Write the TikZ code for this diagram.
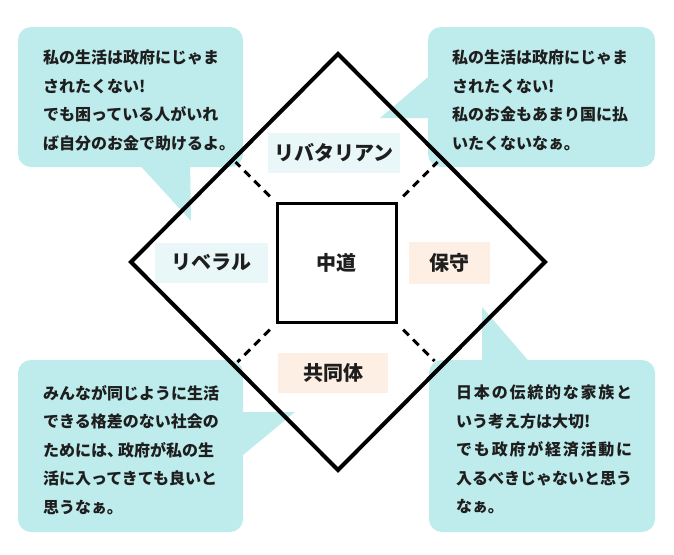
\documentclass[tikz,border=0pt]{standalone}
\usepackage{fontspec}
\setmainfont{Noto Sans CJK JP}
\usetikzlibrary{calc}
\definecolor{bub}{HTML}{BEEBEC}
\definecolor{palecyan}{HTML}{E9F7F8}
\definecolor{peach}{HTML}{FDEFE3}
\definecolor{ink}{HTML}{1E1E1E}
\begin{document}
\begin{tikzpicture}[x=1pt,y=-1pt,
  bubble/.style={fill=bub, draw=none, rounded corners=13pt, inner sep=0pt},
  btext/.style={anchor=north west, inner sep=0pt, align=left, text=ink,
    font=\bfseries\fontsize{16}{28.5}\selectfont},
  lab/.style={inner sep=0pt, text=ink, font=\bfseries\fontsize{20}{24}\selectfont},
  labbox/.style={lab, minimum height=40pt},
  frame/.style={draw=black, line width=4pt, line join=miter},
  cross/.style={draw=black, line width=3pt, dash pattern=on 8pt off 6pt, shorten <=8pt}]
\useasboundingbox (0,0) rectangle (674,554);

% speech bubbles
\node[bubble, minimum width=225pt, minimum height=140pt] (b1) at (130.5,97) {};
\fill[bub] (135,160) -- (190,160) -- (191,221) -- cycle;
\node[bubble, minimum width=227pt, minimum height=140pt] (b2) at (541.5,97) {};
\fill[bub] (434,72) -- (380,118) -- (434,118) -- cycle;
\node[bubble, minimum width=225pt, minimum height=172pt] (b3) at (130.5,446) {};
\fill[bub] (237,412) -- (295,412) -- (237,460) -- cycle;
\node[bubble, minimum width=226pt, minimum height=172pt] (b4) at (542,446) {};
\fill[bub] (482,366) -- (482,307) -- (533,366) -- cycle;

\node[btext] (t1) at (43,50) {私の生活は政府にじゃま\\されたくない!\\でも困っている人がいれ\\ば自分のお金で助けるよ。};
\node[btext] (t2) at (452,50) {私の生活は政府にじゃま\\されたくない!\\私のお金もあまり国に払\\いたくないなぁ。};
\node[btext] (t3) at (43,385) {みんなが同じように生活\\できる格差のない社会の\\ためには、\kern-5pt 政府が私の生\\活に入ってきても良いと\\思うなぁ。};
\node[btext] (t4) at (456,385) {\hbox to 176pt{日\hfill 本\hfill の\hfill 伝\hfill 統\hfill 的\hfill な\hfill 家\hfill 族\hfill と}\\いう考え方は大切!\\\hbox to 176pt{で\hfill も\hfill 政\hfill 府\hfill が\hfill 経\hfill 済\hfill 活\hfill 動\hfill に}\\入るべきじゃないと思う\\なぁ。};

% diamond
\coordinate (top) at (338,54);
\coordinate (right) at (545,262);
\coordinate (bottom) at (338,470);
\coordinate (left) at (131,262);
\draw[frame] (top) -- (right) -- (bottom) -- (left) -- cycle;

% centre square
\node[draw=black, line width=3pt, minimum size=119pt, lab] (sq) at (336.5,263) {中道};

% dashed separators
\coordinate (e1) at ($(sq.north west)+(-40,-40)$);
\coordinate (e2) at ($(sq.north east)+(40,-40)$);
\coordinate (e3) at ($(sq.south west)+(-38,38)$);
\coordinate (e4) at ($(sq.south east)+(37,37)$);
\draw[cross] (sq.north west) -- (e1);
\draw[cross] (sq.north east) -- (e2);
\draw[cross] (sq.south west) -- (e3);
\draw[cross] (sq.south east) -- (e4);

% labels
\node[labbox, fill=palecyan, minimum width=132pt] (lib) at (334,153) {リバタリアン};
\node[labbox, fill=palecyan, minimum width=113pt] (lbr) at (211.5,262.5) {リベラル};
\node[labbox, fill=peach, minimum width=81pt, minimum height=42pt] (cons) at (449.5,263) {保守};
\node[labbox, fill=peach, minimum width=110pt] (comm) at (333,373) {共同体};
\end{tikzpicture}
\end{document}
